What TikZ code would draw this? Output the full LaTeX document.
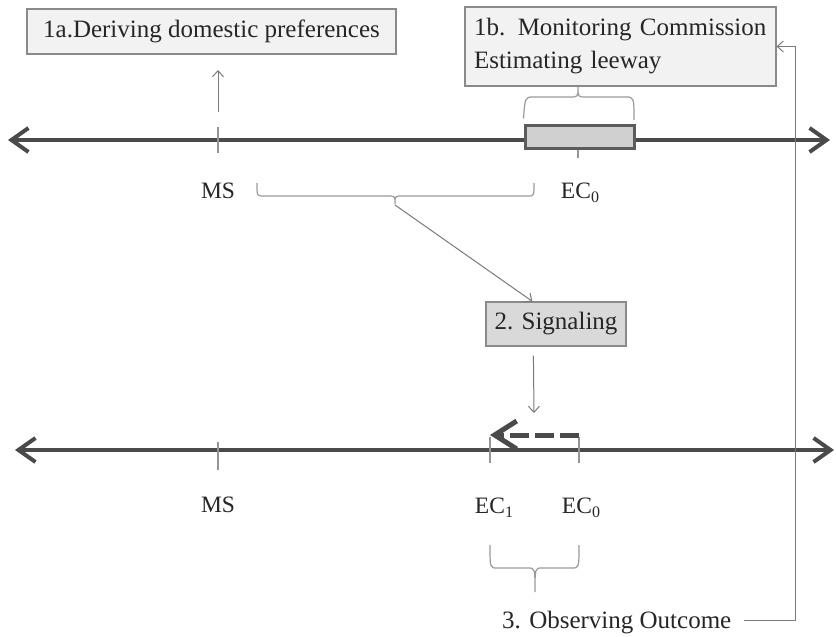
\documentclass[tikz,border=0pt]{standalone}
\usepackage{fontspec}
\setmainfont{Liberation Serif}
\usetikzlibrary{arrows.meta,calc}
\definecolor{axisc}{HTML}{4A4A4A}
\definecolor{thinc}{HTML}{7A7A7A}
\definecolor{boxline}{HTML}{8A8A8A}
\definecolor{fillA}{HTML}{F2F2F2}
\definecolor{fillB}{HTML}{D9D9D9}
\definecolor{fillR}{HTML}{D0D0D0}
\definecolor{bracec}{HTML}{9A9A9A}
\newcommand{\mysub}[1]{\raisebox{-0.35ex}{\fontsize{16}{18}\selectfont #1}}
\tikzset{
  boxtext/.style={font=\fontsize{25}{33}\selectfont, text=black!85},
  labeltext/.style={font=\fontsize{23.5}{26}\selectfont, text=black!85},
  gbox/.style={draw=boxline, line width=1.2pt, inner sep=0pt, boxtext},
  axisline/.style={draw=axisc, line width=4pt, {Straight Barb[length=17pt,width=24pt]}-{Straight Barb[length=17pt,width=24pt]}},
  thinarrow/.style={draw=thinc, line width=1pt, -{Straight Barb[length=6pt,width=11pt]}},
  tickline/.style={draw=thinc!80, line width=1.2pt},
  bracel/.style={draw=bracec, line width=1.2pt},
}
\begin{document}
\begin{tikzpicture}[x=1pt,y=-1pt]
\useasboundingbox (0,0) rectangle (836,637);
\fill[white] (0,0) rectangle (836,637);

% ---------- top axis ----------
\draw[axisline] (8,140) -- (830,140);
\draw[tickline] (218,127) -- (218,153);
\node[draw=axisc!90, line width=3pt, fill=fillR, minimum width=109pt, minimum height=23pt, inner sep=0pt] (range) at (579.5,136.5) {};
\draw[tickline] (578,150) -- (578,158);

% boxes
\node[gbox, fill=fillA, minimum width=369pt, minimum height=45pt] (boxA) at (211.5,31.5) {1a.Deriving domestic preferences};
\node[gbox, fill=fillA, minimum width=311pt, minimum height=79pt, text width=293pt, align=left] (boxB) at (620.5,46.5) {1b. Monitoring Commission\\Estimating leeway};

% arrow to 1a
\coordinate (a1s) at (218,112);
\coordinate (a1e) at (218,70);
\draw[thinarrow] (a1s) -- (a1e);

% brace under 1b
\draw[bracel] (range.north west) ++(0,-5) .. controls (525,98) and (525,97) .. (533,97) -- (570,97) .. controls (578,97) .. (578,87)
  .. controls (578,97) .. (586,97) -- (626,97) .. controls (634,97) and (634,98) .. (634,120);

% labels top
\node[labeltext] (msT) at (218,191) {MS};
\node[labeltext] (ecT) at (580,193) {EC\mysub{0}};

% bracket under MS--EC0
\draw[bracel] (257,183) .. controls (257,196) .. (263,196) -- (388,196) .. controls (395,196) .. (395,204)
  .. controls (395,196) .. (402,196) -- (528,196) .. controls (534,196) .. (534,183);
\coordinate (bt) at (395,205);

% signaling
\node[gbox, fill=fillB, minimum width=140pt, minimum height=44pt] (sig) at (556,324) {2. Signaling};
\draw[thinarrow] (bt) -- ($(sig.north west)+(47,0)$);
\coordinate (sd) at (534,413);
\draw[thinarrow] ($(sig.south west)+(48,9)$) -- (sd);

% ---------- bottom axis ----------
\draw[axisline] (15,450) -- (834,450);
\draw[tickline] (218,442) -- (218,470);
\draw[tickline] (490,437) -- (490,463);
\draw[tickline] (579,437) -- (579,463);
\coordinate (d0) at (579,435);
\coordinate (d1) at (490,435);
\draw[draw=axisc, line width=5pt, dash pattern=on 19pt off 6pt, -{Straight Barb[length=22pt,width=28pt,line width=5pt]}] (d0) -- (d1);

\node[labeltext] (msB) at (218,505) {MS};
\node[labeltext] (ec1) at (494,508) {EC\mysub{1}};
\node[labeltext] (ec0) at (581,508) {EC\mysub{0}};

% bottom brace
\draw[bracel] (490,545) .. controls (490,568) .. (497,568) -- (528,568) .. controls (535,568) .. (535,592)
  .. controls (535,568) .. (542,568) -- (572,568) .. controls (579,568) .. (579,545);

% observing outcome + feedback
\node[boxtext, inner sep=0pt, anchor=base west] (obs) at (502,628) {3. Observing Outcome};
\draw[thinarrow] ([xshift=12pt,yshift=2pt]obs.east) -- ++(52,0) |- (boxB.east);
\end{tikzpicture}
\end{document}
